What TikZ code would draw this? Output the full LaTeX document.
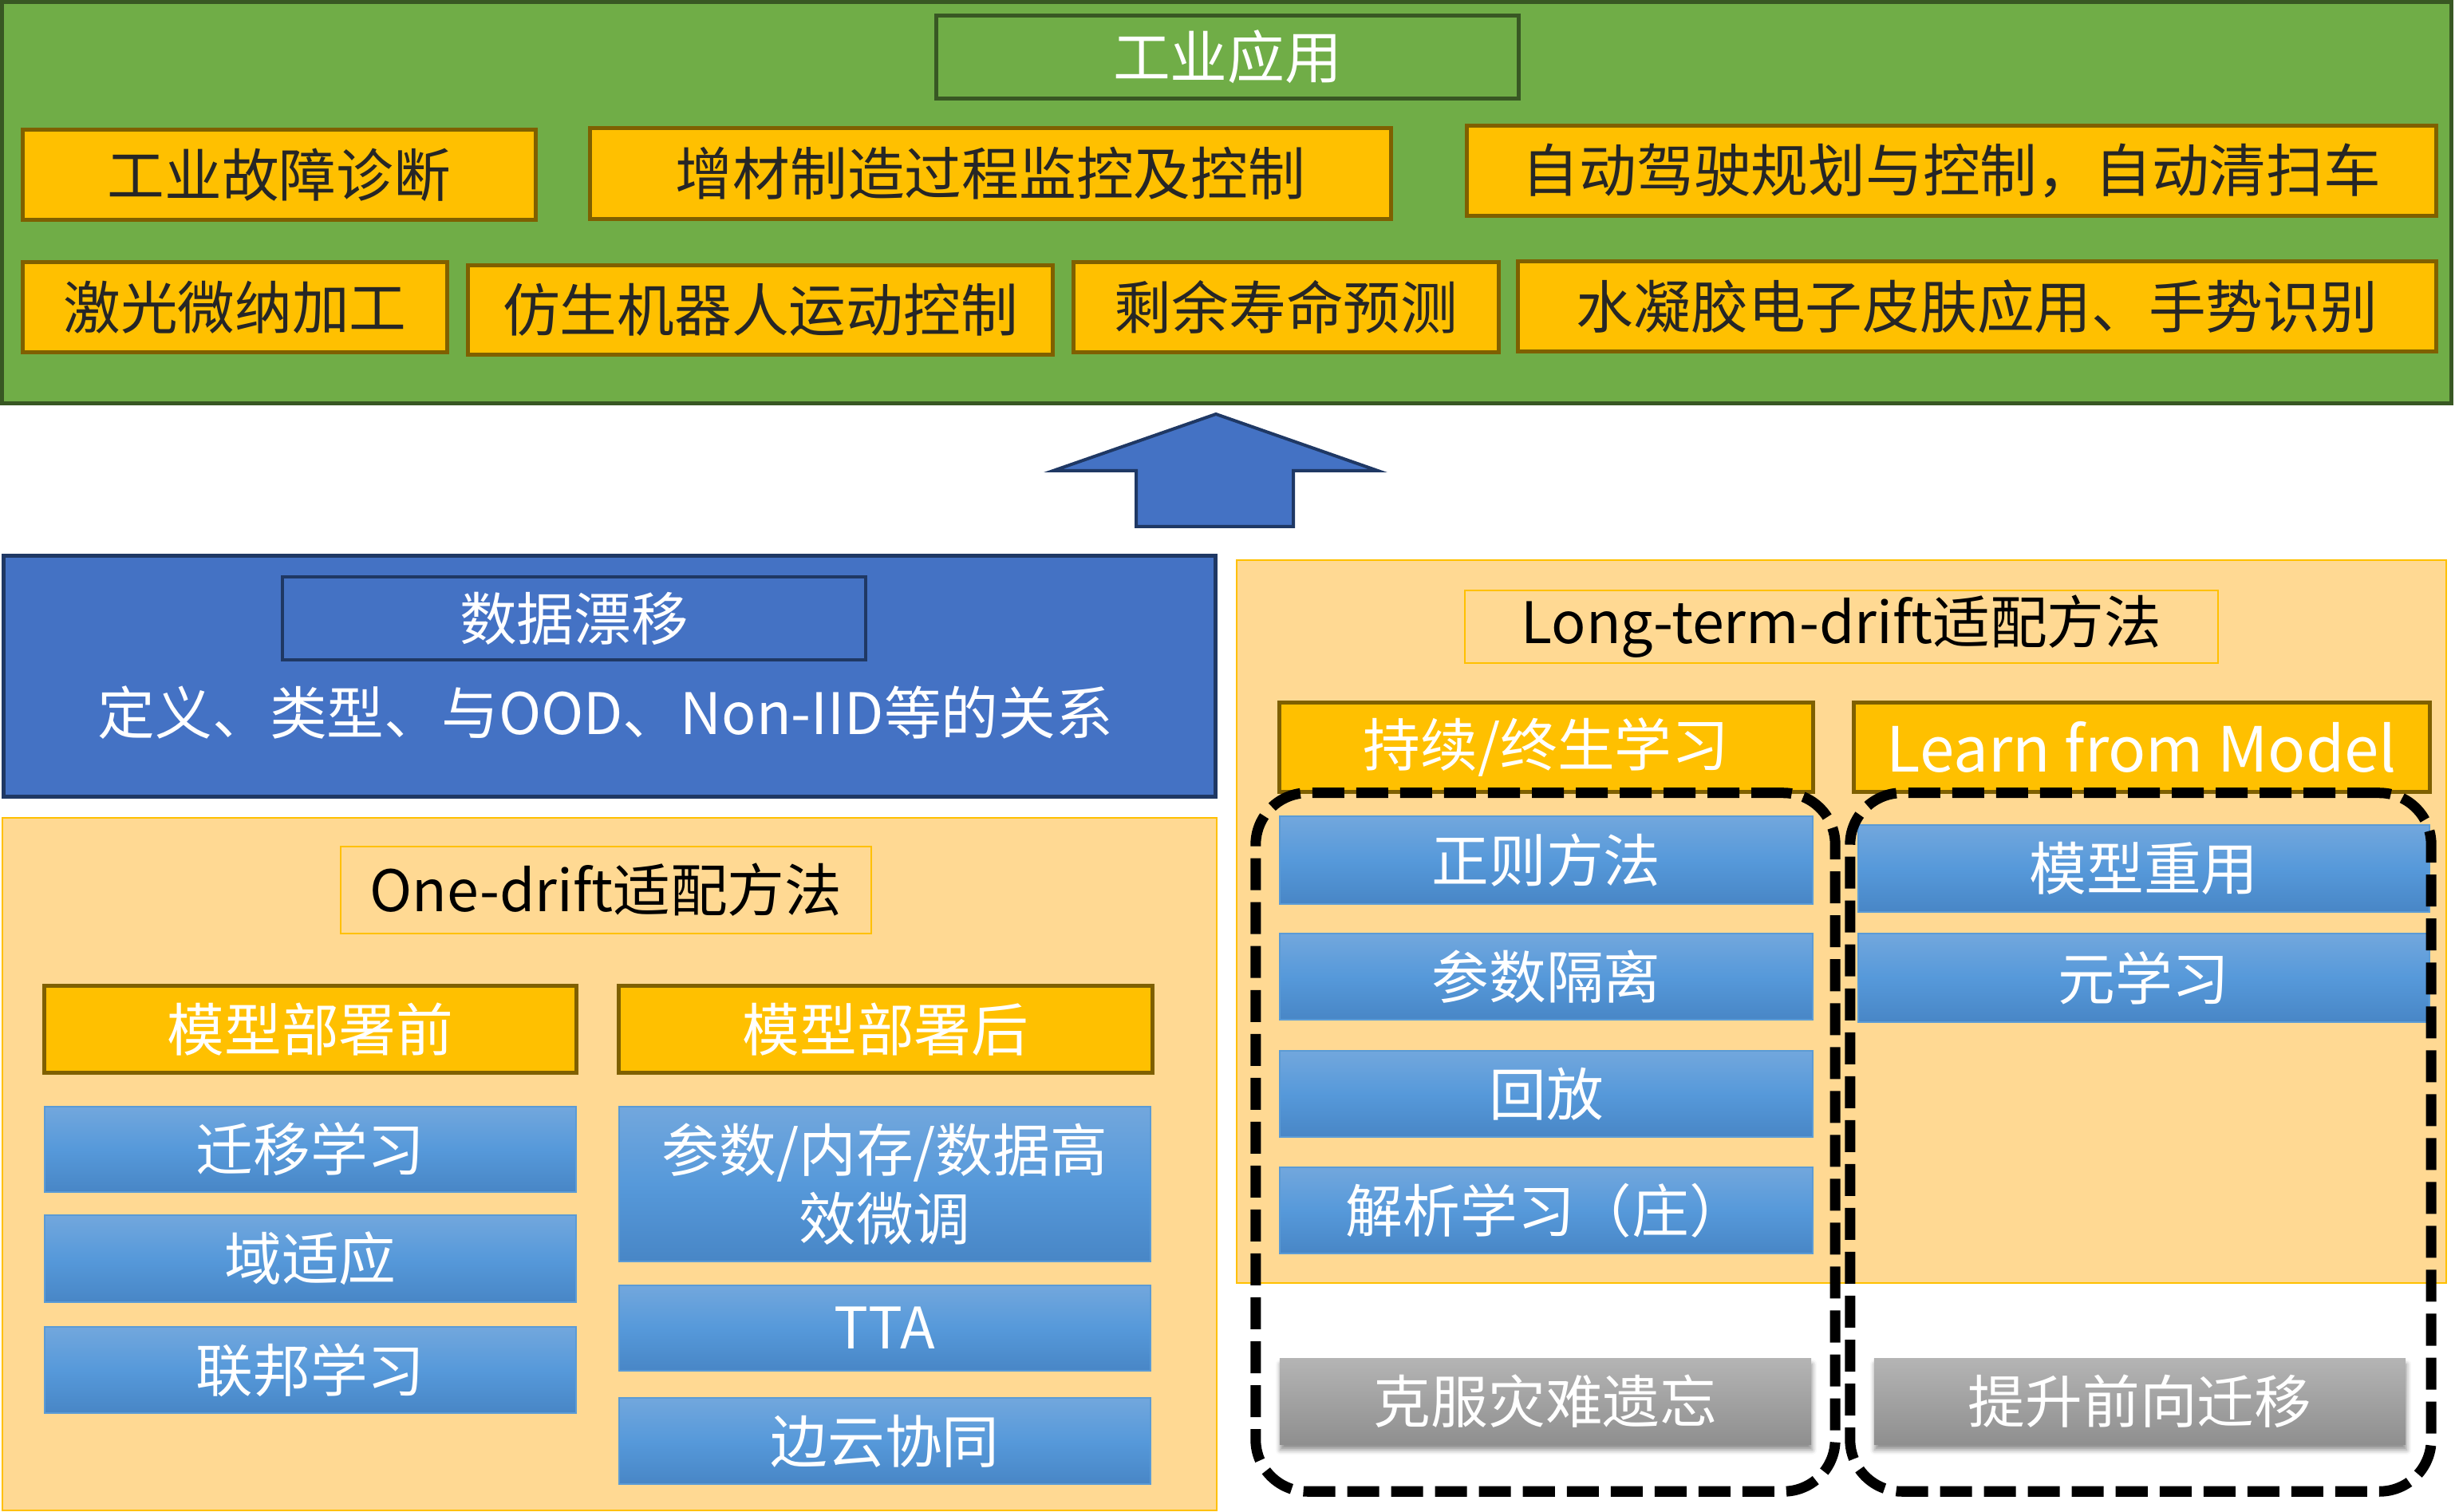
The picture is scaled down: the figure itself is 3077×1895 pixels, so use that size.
\documentclass[tikz,border=0pt]{standalone}
\usepackage{fontspec}
\setmainfont{Noto Sans CJK SC}
\definecolor{mgreen}{HTML}{70AD47}
\definecolor{mgreenline}{HTML}{385723}
\definecolor{morange}{HTML}{FFC000}
\definecolor{morangeline}{HTML}{7F6000}
\definecolor{mpale}{HTML}{FFD993}
\definecolor{mblue}{HTML}{4472C4}
\definecolor{mnavy}{HTML}{1F3864}
\definecolor{mbluetop}{HTML}{72A7DD}
\definecolor{mbluemid}{HTML}{5699DA}
\definecolor{mbluebot}{HTML}{4886C6}
\definecolor{mblueline}{HTML}{5B9BD5}
\definecolor{mgraytop}{HTML}{B4B4B4}
\definecolor{mgraybot}{HTML}{8F8F8F}
\definecolor{mtext}{HTML}{262626}
\usetikzlibrary{shadows.blur}
\tikzset{
  wh/.style 2 args={minimum width=#1cm, minimum height=#2cm},
  box/.style={rectangle, inner sep=0pt, outer sep=0pt, align=center, font=\fontsize{20.4pt}{24.5pt}\selectfont},
  appbox/.style={box, fill=morange, draw=morangeline, line width=0.05cm, text=mtext},
  headbox/.style={box, fill=morange, draw=morangeline, line width=0.05cm, text=white},
  titlebox/.style={box, fill=mpale, draw=morange, line width=0.02cm, text=black},
  methodbox/.style={box, top color=mbluetop, bottom color=mbluebot, middle color=mbluemid, draw=mblueline, line width=0.015cm, text=white},
  goalbox/.style={box, top color=mgraytop, bottom color=mgraybot, text=white,
    blur shadow={shadow xshift=0.01cm, shadow yshift=-0.07cm, shadow blur radius=0.06cm, shadow opacity=45}},
  panel/.style={rectangle, inner sep=0pt, outer sep=0pt, fill=mpale, draw=morange, line width=0.02cm},
  group/.style={rectangle, inner sep=0pt, outer sep=0pt, draw=black, line width=0.13cm, rounded corners=0.65cm, dash pattern=on 0.4cm off 0.15cm},
}
\begin{document}
\begin{tikzpicture}[x=0.01cm, y=-0.01cm]
\useasboundingbox (0,0) rectangle (3077,1895);

\node (apppanel) [rectangle, inner sep=0pt, fill=mgreen, draw=mgreenline, line width=0.05cm, wh={30.69}{5.02}] at (1537.5,254) {};
\node (apptitle) [box, draw=mgreenline, line width=0.05cm, text=white, wh={7.29}{1.03}] at (1538.5,71.5) {工业应用};
\node (fault) [appbox, wh={6.42}{1.12}] at (350,219) {工业故障诊断};
\node (additive) [appbox, wh={10.03}{1.13}] at (1241.5,217.5) {增材制造过程监控及控制};
\node (driving) [appbox, wh={12.14}{1.12}] at (2446,214) {自动驾驶规划与控制，自动清扫车};
\node (laser) [appbox, wh={5.31}{1.12}] at (294.5,385) {激光微纳加工};
\node (robot) [appbox, wh={7.32}{1.11}] at (953,388.5) {仿生机器人运动控制};
\node (life) [appbox, wh={5.32}{1.12}] at (1612,385) {剩余寿命预测};
\node (skin) [appbox, wh={11.50}{1.12}] at (2478,384) {水凝胶电子皮肤应用、手势识别};

\draw[fill=mblue, draw=mnavy, line width=0.04cm] (1424,660) -- (1424,590) -- (1320,590) -- (1524,519) -- (1727,590) -- (1621,590) -- (1621,660) -- cycle;

\node (drift) [rectangle, inner sep=0pt, fill=mblue, draw=mnavy, line width=0.05cm, wh={15.18}{3.01}] at (764,847.5) {};
\node (drifttitle) [box, draw=mnavy, line width=0.04cm, text=white, wh={7.31}{1.04}] at (719.5,775) {数据漂移};
\node (driftdesc) [box, text=white] at (759,893) {定义、类型、与OOD、Non-IID等的关系};

\node (onepanel) [panel, wh={15.22}{8.68}] at (764,1459) {};
\node (onetitle) [titlebox, wh={6.65}{1.09}] at (759.5,1115.5) {One-drift适配方法};
\node (pre) [headbox, wh={6.66}{1.08}] at (389,1290) {模型部署前};
\node (post) [headbox, wh={6.68}{1.08}] at (1110,1290) {模型部署后};
\node (transfer) [methodbox, wh={6.66}{1.07}] at (389,1440.5) {迁移学习};
\node (adapt) [methodbox, wh={6.66}{1.09}] at (389,1577.5) {域适应};
\node (federated) [methodbox, wh={6.66}{1.08}] at (389,1717) {联邦学习};
\node (peft) [methodbox, wh={6.66}{1.94}] at (1109,1484) {参数/内存/数据高\\效微调};
\node (tta) [methodbox, wh={6.66}{1.07}] at (1109,1664.5) {TTA};
\node (edge) [methodbox, wh={6.66}{1.08}] at (1109,1806) {边云协同};

\node (longpanel) [panel, wh={15.16}{9.06}] at (2308,1155) {};
\node (longtitle) [titlebox, wh={9.44}{0.91}] at (2308,785.5) {Long-term-drift适配方法};
\node (continual) [headbox, wh={6.68}{1.11}] at (1938,936.5) {持续/终生学习};
\node (frommodel) [headbox, wh={7.21}{1.11}, font=\fontsize{22.2pt}{26pt}\selectfont] at (2684.5,936.5) {Learn from Model};
\node (regular) [methodbox, wh={6.68}{1.10}] at (1938,1078) {正则方法};
\node (isolate) [methodbox, wh={6.68}{1.08}] at (1938,1224) {参数隔离};
\node (replay) [methodbox, wh={6.68}{1.08}] at (1938,1371) {回放};
\node (analytic) [methodbox, wh={6.68}{1.08}] at (1938,1517) {解析学习（庄）};
\node (reuse) [methodbox, wh={7.16}{1.09}] at (2687,1088.5) {模型重用};
\node (meta) [methodbox, wh={7.16}{1.11}] at (2687,1225.5) {元学习};
\node (forget) [goalbox, wh={6.66}{1.07}] at (1937,1756.5) {克服灾难遗忘};
\node (forward) [goalbox, wh={6.66}{1.07}] at (2682,1756.5) {提升前向迁移};

\node (clgroup) [group, wh={7.26}{8.75}] at (1937,1431.5) {};
\node (lfmgroup) [group, wh={7.28}{8.75}] at (2683,1431.5) {};
\end{tikzpicture}
\end{document}
